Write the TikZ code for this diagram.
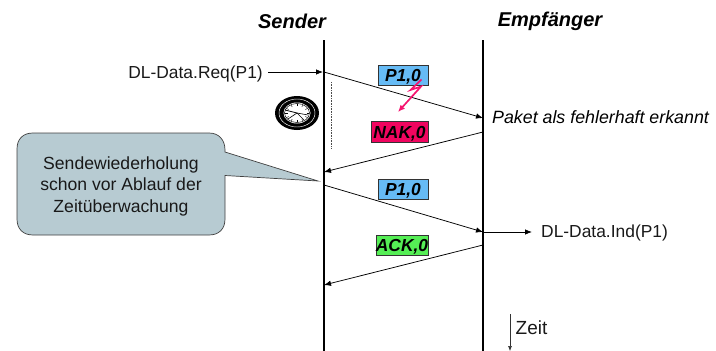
\documentclass[tikz,border=0pt]{standalone}
\usepackage{fontspec}
\setmainfont{Liberation Sans}
\usetikzlibrary{arrows.meta,shapes.geometric}
\definecolor{pblue}{HTML}{66BBF5}
\definecolor{nakred}{HTML}{F0055F}
\definecolor{ackgreen}{HTML}{55EE55}
\definecolor{callfill}{HTML}{B7CBD2}
\definecolor{boltc}{HTML}{F5156F}
\tikzset{
  x=1pt,y=-1pt,
  lifeline/.style={line width=1.6pt,black},
  msg/.style={line width=0.75pt,black,-{Latex[length=7pt,width=5.5pt]}},
  label/.style={font=\fontsize{17.4}{21}\selectfont,text=black!90,inner sep=0pt},
  head/.style={font=\fontsize{20}{24}\selectfont\bfseries\itshape,inner sep=0pt},
  pkt/.style={draw=black!80,line width=0.6pt,font=\fontsize{17.4}{21}\selectfont\bfseries\itshape,inner sep=0pt,minimum height=20pt,anchor=center},
}
\newcommand{\pktext}[1]{\smash{\raisebox{-6.5pt}{#1}}}
\begin{document}
\begin{tikzpicture}
\useasboundingbox (0,0) rectangle (716,351);
\node[head] (sender) at (292,21) {Sender};
\node[head] (empf) at (550,21) {Empfänger};
\coordinate (s0) at (324,40); \coordinate (s1) at (324,351);
\coordinate (e0) at (483,40); \coordinate (e1) at (483,351);
\draw[lifeline] (s0) -- (s1);
\draw[lifeline] (e0) -- (e1);
% labels
\node[label,anchor=east] (req) at (263,74) {DL-Data.Req(P1)};
\node[label,anchor=west] (ind) at (541,232.5) {DL-Data.Ind(P1)};
\node[anchor=west,inner sep=0pt,font=\fontsize{17.8}{21}\selectfont\itshape] (err) at (492,117) {Paket als fehlerhaft erkannt};
% message anchors
\coordinate (a1) at (324,72); \coordinate (b1) at (483,118);
\coordinate (a2) at (483,132); \coordinate (b2) at (324,172);
\coordinate (a3) at (324,185); \coordinate (b3) at (483,232);
\coordinate (a4) at (483,245); \coordinate (b4) at (324,285);
\coordinate (reqe) at (268,72); \coordinate (reqt) at (323,72);
\coordinate (inds) at (483,232); \coordinate (indt) at (532,232);
\draw[msg] (reqe) -- (reqt);
\draw[msg] (a1) -- (b1);
\draw[msg] (a2) -- (b2);
\draw[msg] (a3) -- (b3);
\draw[msg] (a4) -- (b4);
\draw[msg] (inds) -- (indt);
% dotted timer
\coordinate (t0) at (331,82); \coordinate (t1) at (331,148);
\draw[line width=0.6pt,densely dotted,black!70] (t0) -- (t1);
% packets
\node[pkt,fill=pblue,minimum width=50pt] (p1) at (403,75) {\pktext{P1,0}};
\node[pkt,fill=nakred,minimum width=57pt,minimum height=21pt] (nak) at (399.5,131.5) {\pktext{NAK,0}};
\node[pkt,fill=pblue,minimum width=50pt] (p2) at (403,189) {\pktext{P1,0}};
\node[pkt,fill=ackgreen,text width=52pt,align=center,minimum height=20pt] (ack) at (402,245) {\makebox[52pt][c]{\pktext{ACK,0}}};
% bolt
\draw[boltc,line width=1.7pt,-{Latex[length=7pt,width=6pt]}] (421.5,79.5) -- (410.5,90) -- (421,86.5) -- (398,112);
% clock
\fill[black] (297,113) ellipse (22 and 17);
\draw[white,line width=0.45pt] (297,113) ellipse (18 and 14);
\fill[white] (297,113) ellipse (13.5 and 10.5);
\draw[black,line width=0.5pt] (297,113) ellipse (12.5 and 9.5);
\foreach \a in {0,30,...,330}
  \draw[black,line width=0.4pt] ({297+9.5*cos(\a)},{113+7*sin(\a)}) -- ({297+12*cos(\a)},{113+9*sin(\a)});
\draw[black,line width=0.8pt] (297,113) -- (285,110);
\draw[black,line width=0.6pt] (297,113) -- (308,115);
\draw[black,line width=0.6pt] (297,113) -- (304,120);
\draw[black,line width=0.6pt] (297,113) -- (288,119);
% callout
\draw[black!75,line width=0.7pt,fill=callfill]
  (33,133) -- (209,133) .. controls (219,133) and (225,140) .. (225,150) -- (225,152) -- (318,181) -- (225,175.5) -- (225,219)
  .. controls (225,229) and (219,235) .. (209,235) -- (33,235) .. controls (23,235) and (17,229) .. (17,219) -- (17,149)
  .. controls (17,139) and (23,133) .. (33,133) -- cycle;
\node[label,align=center,font=\fontsize{17.6}{21.5}\selectfont] (ctext) at (121,186) {Sendewiederholung\\schon vor Ablauf der\\Zeitüberwachung};
% Zeit
\coordinate (z0) at (510,314); \coordinate (z1) at (510,351);
\draw[line width=0.6pt,black!80,-{Latex[length=5pt,width=4pt]}] (z0) -- (z1);
\node[label,anchor=west,font=\fontsize{19}{22}\selectfont] (zeit) at (515.5,328) {Zeit};
\end{tikzpicture}
\end{document}
